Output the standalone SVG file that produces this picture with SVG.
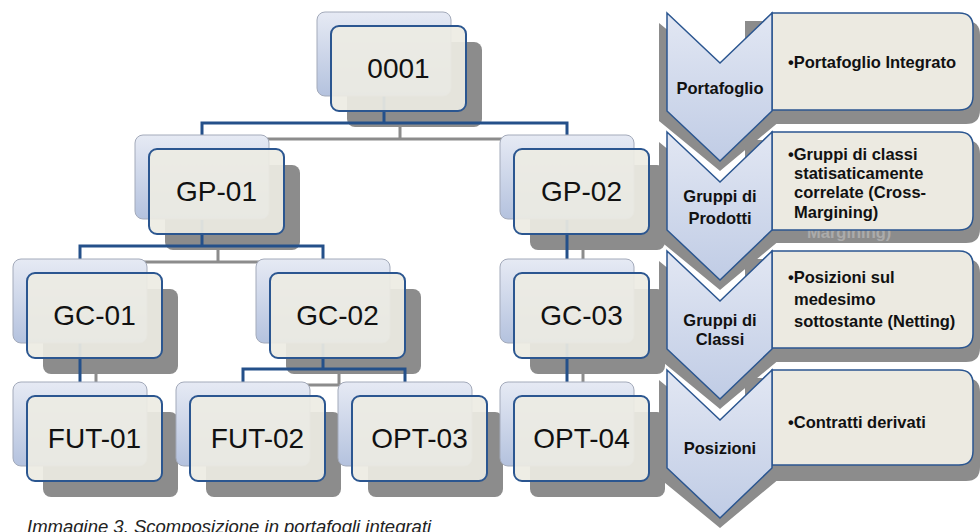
<svg xmlns="http://www.w3.org/2000/svg" width="980" height="532" viewBox="0 0 980 532">
<defs>
<linearGradient id="backGrad" x1="0" y1="0" x2="0" y2="1">
<stop offset="0" stop-color="#E6EAF4"/>
<stop offset="1" stop-color="#B4C2DE"/>
</linearGradient>
<linearGradient id="chevGrad" x1="0" y1="0" x2="0" y2="1">
<stop offset="0" stop-color="#E2E7F3"/>
<stop offset="1" stop-color="#C0CCE5"/>
</linearGradient>
<style>
.shadow{fill:#8C8C8C}
.back{fill:url(#backGrad);stroke:#A3AABA;stroke-width:1}
.front{fill:#EDEBE3;fill-opacity:0.92;stroke:#2B5690;stroke-width:2}
.lbl{font-family:"Liberation Sans",Arial,sans-serif;font-size:28px;fill:#111;text-anchor:middle}
.blue{fill:none;stroke:#24508A;stroke-width:3}
.gray{fill:none;stroke:#8C8C8C;stroke-width:3}
.chev{fill:url(#chevGrad);stroke:#2B5690;stroke-width:1.5}
.box{fill:#ECEAE1;stroke:#2B5690;stroke-width:1.5}
.clbl{font-family:"Liberation Sans",Arial,sans-serif;font-size:16.5px;font-weight:bold;fill:#111;text-anchor:middle}
.btxt{font-family:"Liberation Sans",Arial,sans-serif;font-size:16.5px;font-weight:bold;fill:#111}
.cap{font-family:"Liberation Sans",Arial,sans-serif;font-size:18.5px;font-style:italic;fill:#222}
</style>
</defs>
<rect width="980" height="532" fill="#FFFFFF"/>

<!-- node shadows -->
<g id="shadows">
<rect class="shadow" x="347" y="42" width="135" height="85" rx="8"/>
<rect class="shadow" x="165" y="165" width="135" height="85" rx="8"/>
<rect class="shadow" x="530" y="165" width="135" height="85" rx="8"/>
<rect class="shadow" x="43" y="289" width="135" height="85" rx="8"/>
<rect class="shadow" x="286" y="289" width="135" height="85" rx="8"/>
<rect class="shadow" x="530" y="289" width="135" height="85" rx="8"/>
<rect class="shadow" x="43" y="412" width="135" height="85" rx="8"/>
<rect class="shadow" x="206" y="412" width="135" height="85" rx="8"/>
<rect class="shadow" x="368" y="412" width="135" height="85" rx="8"/>
<rect class="shadow" x="530" y="412" width="135" height="85" rx="8"/>
</g>

<g id="connectors">
<path class="gray" d="M400,111 V139 M218,151 V139 H583 V151"/>
<path class="gray" d="M218,236 V262 M96,275 V262 H339 V275"/>
<path class="gray" d="M583,236 V275"/>
<path class="gray" d="M96,359 V398"/>
<path class="gray" d="M339,359 V385 M259,398 V385 H421 V398"/>
<path class="gray" d="M583,359 V398"/>
<path class="blue" d="M384,95 V123 M202,135 V123 H567 V135"/>
<path class="blue" d="M202,220 V246 M80,259 V246 H323 V259"/>
<path class="blue" d="M567,220 V259"/>
<path class="blue" d="M80,343 V382"/>
<path class="blue" d="M323,343 V369 M243,382 V369 H405 V382"/>
<path class="blue" d="M567,343 V382"/>
</g>

<g id="n0001">
<rect class="back" x="317" y="12" width="134" height="84" rx="8"/>
<rect class="front" x="331" y="26" width="135" height="85" rx="8"/>
<text class="lbl" x="398.5" y="78">0001</text>
</g>
<g id="nGP01">
<rect class="back" x="135" y="135" width="134" height="84" rx="8"/>
<rect class="front" x="149" y="149" width="135" height="85" rx="8"/>
<text class="lbl" x="216.5" y="201">GP-01</text>
</g>
<g id="nGP02">
<rect class="back" x="500" y="135" width="134" height="84" rx="8"/>
<rect class="front" x="514" y="149" width="135" height="85" rx="8"/>
<text class="lbl" x="581.5" y="201">GP-02</text>
</g>
<g id="nGC01">
<rect class="back" x="13" y="259" width="134" height="84" rx="8"/>
<rect class="front" x="27" y="273" width="135" height="85" rx="8"/>
<text class="lbl" x="94.5" y="325">GC-01</text>
</g>
<g id="nGC02">
<rect class="back" x="256" y="259" width="134" height="84" rx="8"/>
<rect class="front" x="270" y="273" width="135" height="85" rx="8"/>
<text class="lbl" x="337.5" y="325">GC-02</text>
</g>
<g id="nGC03">
<rect class="back" x="500" y="259" width="134" height="84" rx="8"/>
<rect class="front" x="514" y="273" width="135" height="85" rx="8"/>
<text class="lbl" x="581.5" y="325">GC-03</text>
</g>
<g id="nFUT01">
<rect class="back" x="13" y="382" width="134" height="84" rx="8"/>
<rect class="front" x="27" y="396" width="135" height="85" rx="8"/>
<text class="lbl" x="94.5" y="448">FUT-01</text>
</g>
<g id="nFUT02">
<rect class="back" x="176" y="382" width="134" height="84" rx="8"/>
<rect class="front" x="190" y="396" width="135" height="85" rx="8"/>
<text class="lbl" x="257.5" y="448">FUT-02</text>
</g>
<g id="nOPT03">
<rect class="back" x="338" y="382" width="134" height="84" rx="8"/>
<rect class="front" x="352" y="396" width="135" height="85" rx="8"/>
<text class="lbl" x="419.5" y="448">OPT-03</text>
</g>
<g id="nOPT04">
<rect class="back" x="500" y="382" width="134" height="84" rx="8"/>
<rect class="front" x="514" y="396" width="135" height="85" rx="8"/>
<text class="lbl" x="581.5" y="448">OPT-04</text>
</g>

<!-- right-hand level list -->
<g id="levelShadows" class="shadow">
<path d="M659,23 L720,73 L780,23 L780,121 L720,171 L659,121 Z"/>
<path d="M745,21 H966 Q980,21 980,35 V110 Q980,124 966,124 H745 Z"/>
<path d="M659,142 L720,192 L780,142 L780,240 L720,290 L659,240 Z"/>
<path d="M745,140 H966 Q980,140 980,154 V229 Q980,243 966,243 H745 Z"/>
<path d="M659,261 L720,311 L780,261 L780,359 L720,409 L659,359 Z"/>
<path d="M745,259 H966 Q980,259 980,273 V348 Q980,362 966,362 H745 Z"/>
<path d="M659,380 L720,430 L780,380 L780,478 L720,528 L659,478 Z"/>
<path d="M745,378 H966 Q980,378 980,392 V467 Q980,481 966,481 H745 Z"/>
</g>
<text x="807" y="238" font-family="Liberation Sans, Arial, sans-serif" font-size="16.5" font-weight="bold" fill="#ABABAB">Margining)</text>

<g id="lvPortafoglio">
<path class="box" d="M772,13 H959 Q973,13 973,27 V96 Q973,110 959,110 H772 Z"/>
<path class="chev" d="M667,13 L720,63 L772,13 L772,111 L720,161 L667,111 Z"/>
<text class="clbl" x="720" y="94">Portafoglio</text>
<text class="btxt" x="788" y="68">•Portafoglio Integrato</text>
</g>
<g id="lvGruppiProdotti">
<path class="box" d="M772,132 H959 Q973,132 973,146 V216 Q973,230 959,230 H772 Z"/>
<path class="chev" d="M667,132 L720,182 L772,132 L772,230 L720,280 L667,230 Z"/>
<text class="clbl" x="720" y="202">Gruppi di</text>
<text class="clbl" x="720" y="224">Prodotti</text>
<text class="btxt" x="788" y="160">•Gruppi di classi</text>
<text class="btxt" x="794" y="179">statisaticamente</text>
<text class="btxt" x="794" y="198">correlate (Cross-</text>
<text class="btxt" x="794" y="218">Margining)</text>
</g>
<g id="lvGruppiClassi">
<path class="box" d="M772,251 H959 Q973,251 973,265 V334 Q973,348 959,348 H772 Z"/>
<path class="chev" d="M667,251 L720,301 L772,251 L772,349 L720,399 L667,349 Z"/>
<text class="clbl" x="720" y="326">Gruppi di</text>
<text class="clbl" x="720" y="345">Classi</text>
<text class="btxt" x="788" y="283">•Posizioni sul</text>
<text class="btxt" x="794" y="305">medesimo</text>
<text class="btxt" x="794" y="327">sottostante (Netting)</text>
</g>
<g id="lvPosizioni">
<path class="box" d="M772,370 H959 Q973,370 973,384 V451 Q973,465 959,465 H772 Z"/>
<path class="chev" d="M667,370 L720,420 L772,370 L772,468 L720,518 L667,468 Z"/>
<text class="clbl" x="720" y="454">Posizioni</text>
<text class="btxt" x="788" y="428">•Contratti derivati</text>
</g>

<text class="cap" x="27" y="533">Immagine 3. Scomposizione in portafogli integrati</text>
</svg>
